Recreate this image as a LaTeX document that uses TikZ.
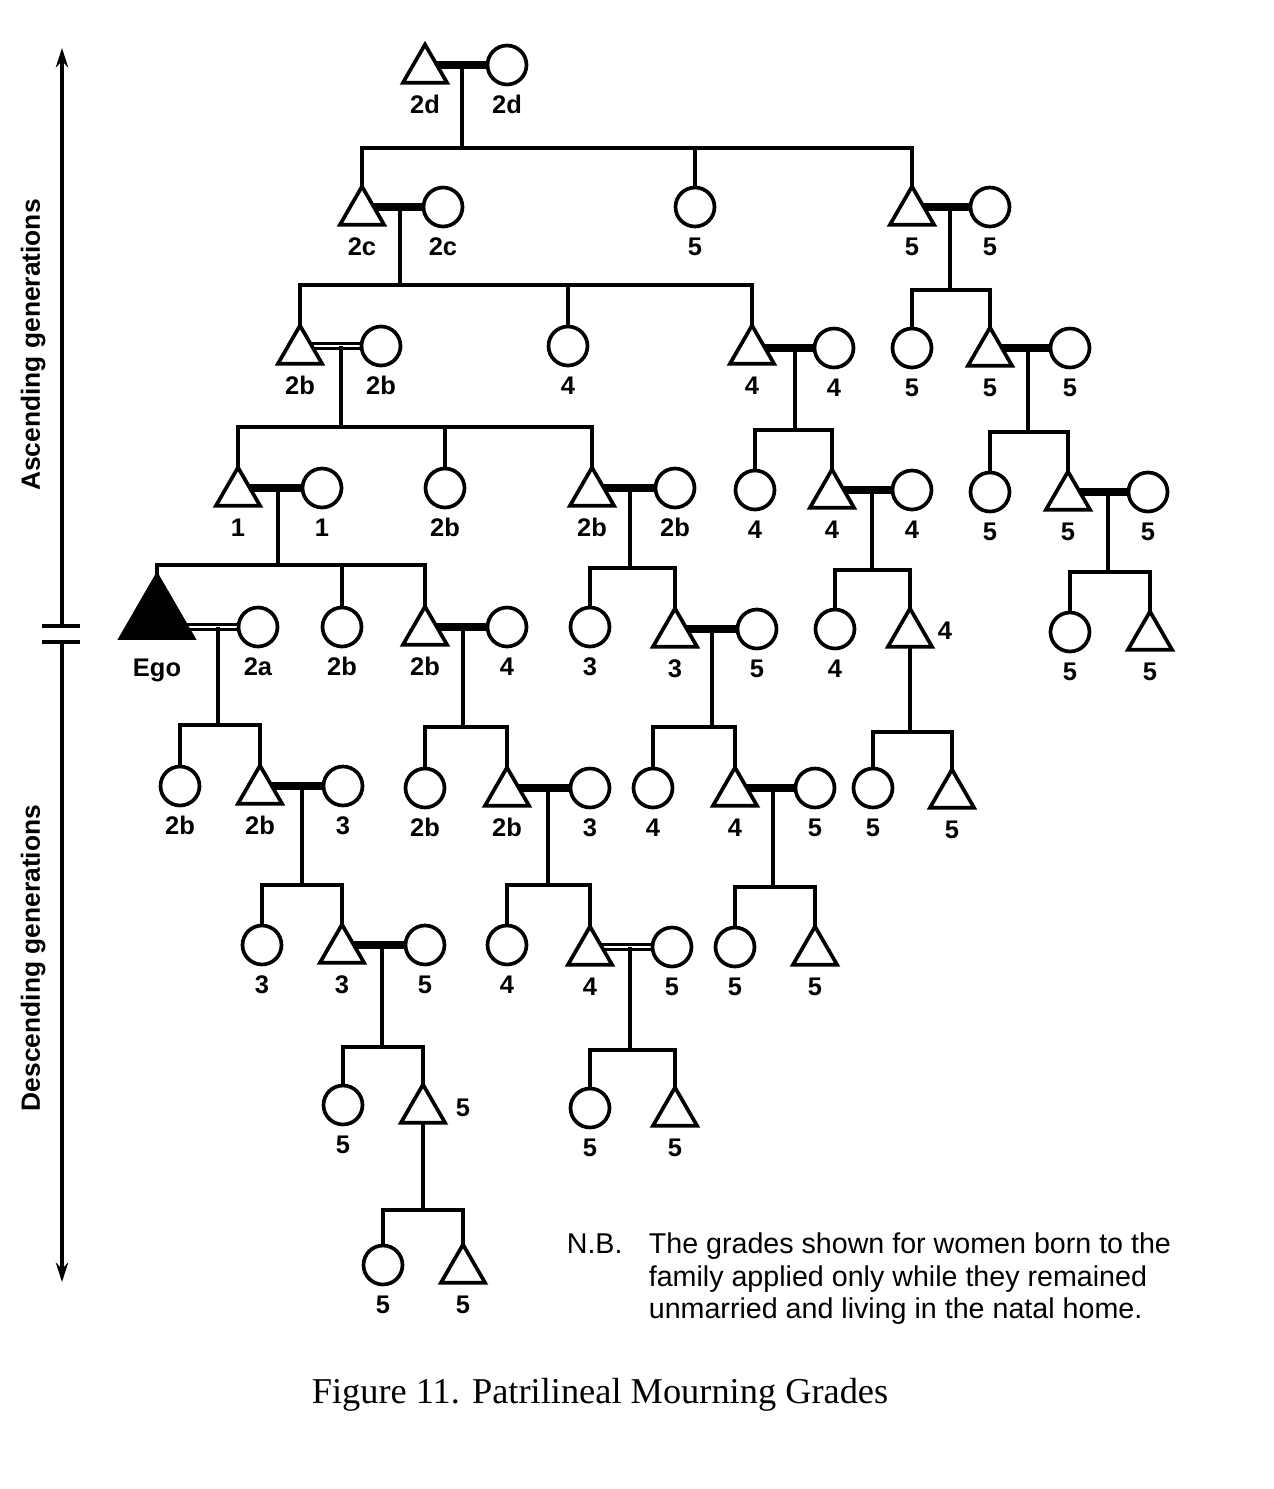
\documentclass[tikz,border=0pt]{standalone}
\usepackage{fontspec}
\setmainfont{Liberation Serif}
\setsansfont{Liberation Sans}
\usetikzlibrary{shapes.geometric,arrows.meta}
\pgfdeclarelayer{bg}
\pgfsetlayers{bg,main}
\tikzset{
  every path/.append style={line width=2.1pt},
  tri/.style={regular polygon, regular polygon sides=3, draw, line width=2.1pt, fill=white, minimum size=1.02cm, inner sep=0pt, outer sep=0pt},
  cir/.style={circle, draw, line width=2.1pt, fill=white, minimum size=0.78cm, inner sep=0pt, outer sep=0pt},
  egotri/.style={regular polygon, regular polygon sides=3, draw, line width=2.1pt, fill=black, minimum size=1.68cm, inner sep=0pt, outer sep=0pt},
  lab/.style={font=\sffamily\bfseries\fontsize{14.5}{17}\selectfont, inner sep=0pt, anchor=base},
  mar/.style={line width=4.2pt},
  dmar/.style={double, double distance=1.1pt, line width=1.8pt},
  axtext/.style={font=\sffamily\bfseries\fontsize{15}{18}\selectfont, rotate=90, inner sep=0pt},
  nbtext/.style={font=\sffamily\fontsize{16.3}{18.7}\selectfont, inner sep=0pt, anchor=base west},
  captext/.style={font=\rmfamily\fontsize{20.7}{24}\selectfont, inner sep=0pt, anchor=base west},
}
\newcommand\KTri[4]{\node[tri] (#1) at ({#2},{#3+5}) {}; \node[lab] (#1l) at ({#2},{#3+48}) {#4};}
\newcommand\KTriN[3]{\node[tri] (#1) at ({#2},{#3+5}) {};}
\newcommand\KCir[4]{\node[cir] (#1) at ({#2},{#3}) {}; \node[lab] (#1l) at ({#2},{#3+48}) {#4};}
\newcommand\KMar[3][mar]{\begin{pgfonlayer}{bg}\draw[#1] (#3.center) -- (#3.center -| #2.center);\end{pgfonlayer}}
\begin{document}
\begin{tikzpicture}[x=0.02cm, y=-0.02cm]
\useasboundingbox (0,0) rectangle (1274,1489);

% ---------- G0
\KTri{a0t}{425}{65}{2d}
\KCir{a0c}{507}{65}{2d}
\KMar{a0t}{a0c}
% ---------- G1
\KTri{b1t}{362}{207}{2c}
\KCir{b1w}{443}{207}{2c}
\KMar{b1t}{b1w}
\KCir{b2c}{695}{207}{5}
\KTri{b3t}{912}{207}{5}
\KCir{b3w}{990}{207}{5}
\KMar{b3t}{b3w}
% ---------- G2
\KTri{c1t}{300}{346}{2b}
\KCir{c1w}{381}{346}{2b}
\KMar[dmar]{c1t}{c1w}
\KCir{c2c}{568}{346}{4}
\KTri{c3t}{752}{346}{4}
\KCir{c3w}{834}{348}{4}
\KMar{c3t}{c3w}
\KCir{c4c}{912}{348}{5}
\KTri{c5t}{990}{348}{5}
\KCir{c5w}{1070}{348}{5}
\KMar{c5t}{c5w}
% ---------- G3
\KTri{d1t}{238}{488}{1}
\KCir{d1w}{322}{488}{1}
\KMar{d1t}{d1w}
\KCir{d2c}{445}{488}{2b}
\KTri{d3t}{592}{488}{2b}
\KCir{d3w}{675}{488}{2b}
\KMar{d3t}{d3w}
\KCir{d4c}{755}{490}{4}
\KTri{d5t}{832}{490}{4}
\KCir{d5w}{912}{490}{4}
\KMar{d5t}{d5w}
\KCir{d6c}{990}{492}{5}
\KTri{d7t}{1068}{492}{5}
\KCir{d7w}{1148}{492}{5}
\KMar{d7t}{d7w}
% ---------- G4
\node[egotri] (ego) at (157,617) {};
\node[lab] (egol) at (157,676) {Ego};
\KCir{ew}{258}{627}{2a}
\KMar[dmar]{ego}{ew}
\KCir{e2c}{342}{627}{2b}
\KTri{e3t}{425}{627}{2b}
\KCir{e3w}{507}{627}{4}
\KMar{e3t}{e3w}
\KCir{e4c}{590}{627}{3}
\KTri{e5t}{675}{629}{3}
\KCir{e5w}{757}{629}{5}
\KMar{e5t}{e5w}
\KCir{e6c}{835}{629}{4}
\KTriN{e7t}{910}{629}
\node[lab] (e7tl) at (945,639) {4};
\KCir{e8c}{1070}{632}{5}
\KTri{e9t}{1150}{632}{5}
% ---------- G5
\KCir{g1c}{180}{786}{2b}
\KTri{g2t}{260}{786}{2b}
\KCir{g2w}{343}{786}{3}
\KMar{g2t}{g2w}
\KCir{g3c}{425}{788}{2b}
\KTri{g4t}{507}{788}{2b}
\KCir{g4w}{590}{788}{3}
\KMar{g4t}{g4w}
\KCir{g5c}{653}{788}{4}
\KTri{g6t}{735}{788}{4}
\KCir{g6w}{815}{788}{5}
\KMar{g6t}{g6w}
\KCir{g7c}{873}{788}{5}
\KTri{g8t}{952}{790}{5}
% ---------- G6
\KCir{h1c}{262}{945}{3}
\KTri{h2t}{342}{945}{3}
\KCir{h2w}{425}{945}{5}
\KMar{h2t}{h2w}
\KCir{h3c}{507}{945}{4}
\KTri{h4t}{590}{947}{4}
\KCir{h4w}{672}{947}{5}
\KMar[dmar]{h4t}{h4w}
\KCir{h5c}{735}{947}{5}
\KTri{h6t}{815}{947}{5}
% ---------- G7
\KCir{i1c}{343}{1105}{5}
\KTriN{i2t}{423}{1105}
\node[lab] (i2tl) at (463,1116) {5};
\KCir{i3c}{590}{1108}{5}
\KTri{i4t}{675}{1108}{5}
% ---------- G8
\KCir{j1c}{383}{1265}{5}
\KTri{j2t}{463}{1265}{5}

% ---------- descent lines
\coordinate (f0) at (462,148);
\draw (f0 |- a0c.center) -- (f0);
\draw (b1t.north) |- (f0) -| (b3t.north);
\draw (b2c.north) -- (b2c.north |- f0);

\coordinate (f1) at (400,285);
\draw (f1 |- b1w.center) -- (f1);
\draw (c1t.north) |- (f1) -| (c3t.north);
\draw (c2c.north) -- (c2c.north |- f1);

\coordinate (f2) at (950,290);
\draw (f2 |- b3w.center) -- (f2);
\draw (c4c.north) |- (f2) -| (c5t.north);

\coordinate (f3) at (341,427);
\draw (f3 |- c1w.center) -- (f3);
\draw (d1t.north) |- (f3) -| (d3t.north);
\draw (d2c.north) -- (d2c.north |- f3);

\coordinate (f4) at (795,430);
\draw (f4 |- c3w.center) -- (f4);
\draw (d4c.north) |- (f4) -| (d5t.north);

\coordinate (f5) at (1028,432);
\draw (f5 |- c5w.center) -- (f5);
\draw (d6c.north) |- (f5) -| (d7t.north);

\coordinate (f6) at (278,565);
\draw (f6 |- d1w.center) -- (f6);
\draw (ego.north) |- (f6) -| (e3t.north);
\draw (e2c.north) -- (e2c.north |- f6);

\coordinate (f7) at (630,568);
\draw (f7 |- d3w.center) -- (f7);
\draw (e4c.north) |- (f7) -| (e5t.north);

\coordinate (f8) at (872,570);
\draw (f8 |- d5w.center) -- (f8);
\draw (e6c.north) |- (f8) -| (e7t.north);

\coordinate (f9) at (1108,572);
\draw (f9 |- d7w.center) -- (f9);
\draw (e8c.north) |- (f9) -| (e9t.north);

\coordinate (f10) at (218,725);
\draw (f10 |- ew.center) -- (f10);
\draw (g1c.north) |- (f10) -| (g2t.north);

\coordinate (f11) at (463,727);
\draw (f11 |- e3w.center) -- (f11);
\draw (g3c.north) |- (f11) -| (g4t.north);

\coordinate (f12) at (712,727);
\draw (f12 |- e5w.center) -- (f12);
\draw (g5c.north) |- (f12) -| (g6t.north);

\coordinate (f13) at (910,732);
\draw (e7t.south) -- (f13);
\draw (g7c.north) |- (f13) -| (g8t.north);

\coordinate (f14) at (302,885);
\draw (f14 |- g2w.center) -- (f14);
\draw (h1c.north) |- (f14) -| (h2t.north);

\coordinate (f15) at (548,885);
\draw (f15 |- g4w.center) -- (f15);
\draw (h3c.north) |- (f15) -| (h4t.north);

\coordinate (f16) at (773,887);
\draw (f16 |- g6w.center) -- (f16);
\draw (h5c.north) |- (f16) -| (h6t.north);

\coordinate (f17) at (382,1047);
\draw (f17 |- h2w.center) -- (f17);
\draw (i1c.north) |- (f17) -| (i2t.north);

\coordinate (f18) at (630,1050);
\draw (f18 |- h4w.center) -- (f18);
\draw (i3c.north) |- (f18) -| (i4t.north);

\coordinate (f19) at (423,1210);
\draw (i2t.south) -- (f19);
\draw (j1c.north) |- (f19) -| (j2t.north);

% ---------- generation axis
\coordinate (axtop) at (62,48);
\coordinate (axm1) at (62,626);
\coordinate (axm2) at (62,642);
\coordinate (axbot) at (62,1282);
\coordinate (tk1a) at (42,626);
\coordinate (tk1b) at (80,626);
\coordinate (tk2a) at (42,642);
\coordinate (tk2b) at (80,642);
\draw[-{Stealth[length=11pt,width=7pt]}] (axm1) -- (axtop);
\draw[-{Stealth[length=11pt,width=7pt]}] (axm2) -- (axbot);
\draw (tk1a) -- (tk1b);
\draw (tk2a) -- (tk2b);
\node[axtext] (asc) at (33,345) {Ascending generations};
\node[axtext] (desc) at (33,958) {Descending generations};

% ---------- note and caption
\node[nbtext] (nb0) at (565,1253) {N.B.};
\node[nbtext] (nb1) at (647,1253) {The grades shown for women born to the};
\node[nbtext] (nb2) at (647,1286) {family applied only while they remained};
\node[nbtext] (nb3) at (647,1318) {unmarried and living in the natal home.};
\node[captext] (cap) at (310,1403) {Figure 11. Patrilineal Mourning Grades};
\end{tikzpicture}
\end{document}
